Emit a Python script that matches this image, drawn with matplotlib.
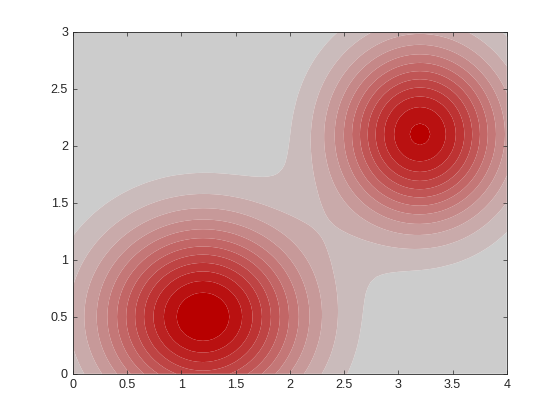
import numpy as np
import matplotlib
matplotlib.use("Agg")
import matplotlib.pyplot as plt
from matplotlib.ticker import FuncFormatter

# two gaussian bumps
centers_x = [1.2, 3.2]
centers_y = [0.5, 2.1]
amplitudes = [1.29, 1.22]
spreads_x = [0.82, 0.55]   # denominators of exp(-dx^2/sx - dy^2/sy)
spreads_y = [0.62, 0.55]

levels = [0.0, 0.1, 0.2, 0.3, 0.4, 0.5, 0.6, 0.7, 0.8, 0.9, 1.0, 1.1, 1.2, 1.3]
x_ticks = [0, 0.5, 1, 1.5, 2, 2.5, 3, 3.5, 4]
y_ticks = [0, 0.5, 1, 1.5, 2, 2.5, 3]

gray = np.array([0.80, 0.80, 0.80])
red = np.array([0.72, 0.0, 0.0])

plt.rcParams['font.family'] = ['Liberation Sans', 'DejaVu Sans']

x = np.linspace(0, 4, 81)
y = np.linspace(0, 3, 61)
X, Y = np.meshgrid(x, y)
Z = np.zeros_like(X)
for cx, cy, a, sx, sy in zip(centers_x, centers_y, amplitudes, spreads_x, spreads_y):
    Z += a * np.exp(-(X - cx) ** 2 / sx - (Y - cy) ** 2 / sy)

n_bands = len(levels) - 1
band_colors = [tuple(gray + (red - gray) * i / (n_bands - 1)) for i in range(n_bands)]

fig = plt.figure(figsize=(5.6, 4.2), dpi=100)
ax = fig.add_axes([0.13, 0.11, 0.775, 0.815])
ax.contourf(X, Y, Z, levels=levels, colors=band_colors, antialiased=True)

ax.set_xlim(0, 4)
ax.set_ylim(0, 3)
ax.set_xticks(x_ticks)
ax.set_yticks(y_ticks)
fmt = FuncFormatter(lambda v, p: ('%g' % v))
ax.xaxis.set_major_formatter(fmt)
ax.yaxis.set_major_formatter(fmt)
ax.tick_params(direction='in', length=3, width=0.5, colors='#262626',
               labelsize=9, top=True, right=True)
for sp in ax.spines.values():
    sp.set_linewidth(0.6)
    sp.set_color('#262626')

fig.savefig('out.png', dpi=100)
